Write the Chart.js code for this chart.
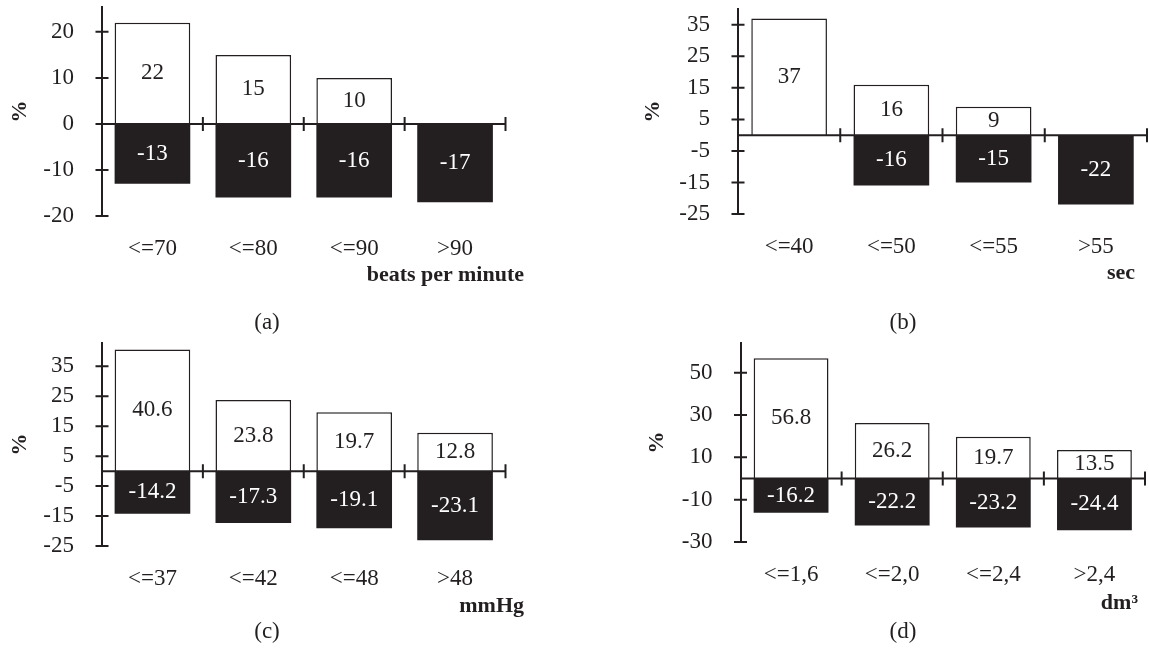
<!DOCTYPE html>
<html>
<head>
<meta charset="utf-8">
<script src="https://cdn.jsdelivr.net/npm/chart.js@4.4.1/dist/chart.umd.min.js"></script>
<style>
  body { margin: 0; background: #fff; width: 1149px; height: 654px; position: relative; overflow: hidden;
         font-family: "Liberation Serif", "Times New Roman", serif; color: #231f20; }
  canvas { position: absolute; }
  .unit { position: absolute; font-weight: bold; font-size: 22px; white-space: nowrap; transform: translate(-100%, -50%); }
  .cap { position: absolute; font-size: 23px; white-space: nowrap; transform: translate(-50%, -50%); }
</style>
</head>
<body>
<canvas id="chartA"></canvas>
<canvas id="chartB"></canvas>
<canvas id="chartC"></canvas>
<canvas id="chartD"></canvas>

<div class="unit" style="left:524px;top:274px">beats per minute</div>
<div class="unit" style="left:1135px;top:272px">sec</div>
<div class="unit" style="left:524px;top:605px">mmHg</div>
<div class="unit" style="left:1138px;top:602px">dm³</div>

<div class="cap" style="left:267px;top:322px">(a)</div>
<div class="cap" style="left:903px;top:322px">(b)</div>
<div class="cap" style="left:267px;top:631px">(c)</div>
<div class="cap" style="left:903px;top:631px">(d)</div>

<script>
const INK = '#231f20';
const FONT = '"Liberation Serif", "Times New Roman", serif';

// (a) beats per minute
const catsA = ['<=70', '<=80', '<=90', '>90'];
const posA = [22, 15, 10, null];
const negA = [-13, -16, -16, -17];
const ticksA = [-20, -10, 0, 10, 20];
const rangeA = [-20, 25.4];

// (b) sec
const catsB = ['<=40', '<=50', '<=55', '>55'];
const posB = [37, 16, 9, null];
const negB = [null, -16, -15, -22];
const ticksB = [-25, -15, -5, 5, 15, 25, 35];
const rangeB = [-25, 40];

// (c) mmHg
const catsC = ['<=37', '<=42', '<=48', '>48'];
const posC = [40.6, 23.8, 19.7, 12.8];
const negC = [-14.2, -17.3, -19.1, -23.1];
const ticksC = [-25, -15, -5, 5, 15, 25, 35];
const rangeC = [-25, 42.8];

// (d) dm3
const catsD = ['<=1,6', '<=2,0', '<=2,4', '>2,4'];
const posD = [56.8, 26.2, 19.7, 13.5];
const negD = [-16.2, -22.2, -23.2, -24.4];
const ticksD = [-30, -10, 10, 30, 50];
const rangeD = [-30, 64];

// zero line with boundary marks, crossing y ticks, and the numbers inside the bars
const axisMarks = {
  id: 'axisMarks',
  afterDatasetsDraw(chart) {
    const { ctx, scales: { x, y } } = chart;
    const y0 = y.getPixelForValue(0);
    const ax = y.right;
    const half = (x.right - x.left) / (2 * chart.data.labels.length);
    ctx.save();
    ctx.strokeStyle = INK;
    ctx.lineWidth = 2;
    ctx.beginPath();
    ctx.moveTo(x.left, y0);
    ctx.lineTo(x.right, y0);
    chart.data.labels.forEach((_, i) => {
      const bx = x.getPixelForValue(i) + half;
      ctx.moveTo(bx, y0 - 7);
      ctx.lineTo(bx, y0 + 7);
    });
    y.ticks.forEach(t => {
      const py = y.getPixelForValue(t.value);
      ctx.moveTo(ax - 6.5, py);
      ctx.lineTo(ax + 6.5, py);
    });
    ctx.stroke();

    ctx.font = '23px ' + FONT;
    ctx.textAlign = 'center';
    ctx.textBaseline = 'middle';
    chart.data.datasets.forEach((ds, di) => {
      chart.getDatasetMeta(di).data.forEach((bar, i) => {
        const v = ds.data[i];
        if (v == null) return;
        ctx.fillStyle = v < 0 ? '#fff' : INK;
        ctx.fillText(String(v), bar.x, (bar.y + bar.base) / 2);
      });
    });
    ctx.restore();
  }
};

function makeChart(id, cats, pos, neg, ticks, range, box, area, barPct) {
  const canvas = document.getElementById(id);
  canvas.width = box.w;
  canvas.height = box.h;
  canvas.style.left = box.x + 'px';
  canvas.style.top = box.y + 'px';

  return new Chart(canvas, {
    type: 'bar',
    data: {
      labels: cats,
      datasets: [
        { data: pos, backgroundColor: '#fff', borderColor: INK, borderWidth: 1.5 },
        { data: neg, backgroundColor: INK, borderWidth: 0 }
      ]
    },
    options: {
      responsive: false,
      animation: false,
      devicePixelRatio: 1,
      layout: { padding: { top: area.t - box.y, right: box.x + box.w - area.r, bottom: 0, left: 0 } },
      datasets: { bar: { categoryPercentage: 1, barPercentage: barPct } },
      scales: {
        x: {
          stacked: true,
          grid: { display: false },
          border: { display: false },
          ticks: { padding: 11, color: INK, font: { family: FONT, size: 23 } },
          afterFit(s) {
            s.height = box.y + box.h - area.b;
            s.paddingLeft = 0;
            s.paddingRight = 0;
          }
        },
        y: {
          stacked: true,
          min: range[0],
          max: range[1],
          grid: { display: false },
          border: { display: true, color: INK, width: 2 },
          ticks: { padding: 20, color: INK, font: { family: FONT, size: 23 } },
          afterBuildTicks(s) {
            s.ticks = ticks.map(v => ({ value: v }));
          },
          afterFit(s) {
            s.width = area.l - box.x;
            s.paddingTop = 0;
            s.paddingBottom = 0;
          },
          title: {
            display: true,
            text: '%',
            color: INK,
            font: { family: FONT, size: 22, weight: 'bold' },
            padding: { top: 7, bottom: 0 }
          }
        }
      },
      plugins: { legend: { display: false }, tooltip: { enabled: false } }
    },
    plugins: [axisMarks]
  });
}

makeChart('chartA', catsA, posA, negA, ticksA, rangeA,
  { x: 0, y: 0, w: 540, h: 300 }, { l: 102, r: 505.5, t: 7, b: 216 }, 0.75);
makeChart('chartB', catsB, posB, negB, ticksB, rangeB,
  { x: 633, y: 0, w: 516, h: 300 }, { l: 738, r: 1147, t: 9, b: 214 }, 0.74);
makeChart('chartC', catsC, posC, negC, ticksC, rangeC,
  { x: 0, y: 330, w: 540, h: 300 }, { l: 102, r: 505.5, t: 343, b: 546 }, 0.75);
makeChart('chartD', catsD, posD, negD, ticksD, rangeD,
  { x: 637, y: 330, w: 512, h: 300 }, { l: 740.5, r: 1145, t: 343, b: 542 }, 0.74);
</script>
</body>
</html>
